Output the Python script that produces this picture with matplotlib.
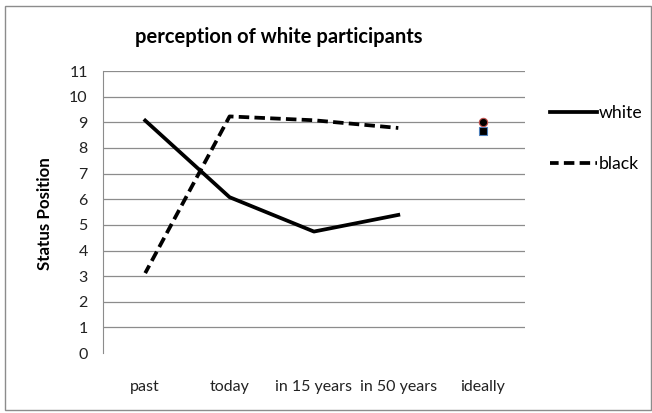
import matplotlib
matplotlib.use("Agg")
import matplotlib.pyplot as plt
from matplotlib.patches import Rectangle

plt.rcParams['font.family'] = ['Lato', 'DejaVu Sans']

categories = ['past', 'today', 'in 15 years', 'in 50 years', 'ideally']
white = [9.07, 6.08, 4.74, 5.39]
black = [3.12, 9.23, 9.08, 8.78]
white_ideal = 9.0
black_ideal = 8.65

fig = plt.figure(figsize=(6.52, 4.13), dpi=100)
ax = fig.add_axes([0.158, 0.145, 0.647, 0.683])

x = [i + 0.5 for i in range(len(categories))]
ax.plot(x[:4], white, color='black', lw=2.7, label='white')
ax.plot(x[:4], black, color='black', lw=2.7, ls=(0.5, (2.8, 1.4)), label='black')
ax.plot(x[4], black_ideal, marker='s', ms=6, color='black', mec='#4f81bd', mew=0.8)
ax.plot(x[4], white_ideal, marker='o', ms=6, color='black', mec='#c0504d', mew=0.8)

ax.set_xlim(0, 5)
ax.set_ylim(0, 11)
ax.set_yticks(range(0, 12))
ax.set_xticks(x)
ax.set_xticklabels(categories)
for i in range(1, 12):
    ax.axhline(i, color='#8c8c8c', lw=0.9, zorder=0)
for s in ['top', 'right', 'bottom']:
    ax.spines[s].set_visible(False)
ax.spines['left'].set_color('#8c8c8c')
ax.tick_params(axis='both', length=0, labelsize=11.5, colors='#222222')
ax.tick_params(axis='x', pad=19)
ax.tick_params(axis='y', pad=11)
ax.set_ylabel('Status Position', fontsize=12.2, fontweight='bold')
ax.yaxis.set_label_coords(-0.118, 0.496)

fig.text(0.427, 0.91, 'perception of white participants', ha='center', va='center',
         fontsize=14.5, fontweight='bold')

fig.legend(handles=ax.get_lines()[:2], loc='upper left', bbox_to_anchor=(0.843, 0.745),
           frameon=False, borderpad=0, borderaxespad=0, handlelength=2.7,
           handletextpad=0.1, labelspacing=1.95, fontsize=12.7)

fig.patches.append(Rectangle((0.008, 0.008), 0.99, 0.978, transform=fig.transFigure,
                             fill=False, edgecolor='#8c8c8c', lw=1))

fig.savefig('out.png', dpi=100)
